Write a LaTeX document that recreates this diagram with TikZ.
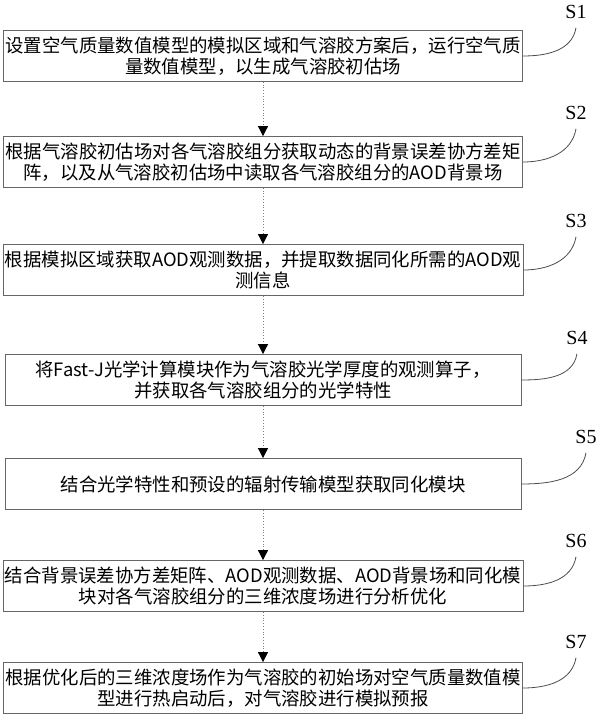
\documentclass[tikz,border=0pt]{standalone}
\usepackage{fontspec}
\setmainfont{Liberation Serif}
\newfontfamily\cjk{Noto Sans CJK SC}
\usetikzlibrary{arrows.meta}

\begin{document}
\begin{tikzpicture}[x=0.5pt,y=-0.5pt,
    stepbox/.style={draw=black!60, minimum width=258pt, minimum height=25.5pt,
        align=center, font=\cjk\fontsize{9.2}{10.5}\selectfont, inner sep=1pt},
    steplabel/.style={font=\fontsize{10}{12}\selectfont},
    flow/.style={densely dotted, black!50, -{Triangle[black, length=5pt, width=5pt]}},
    tag/.style={black!70, thin}]
    \useasboundingbox (0,0) rectangle (600,721);

    % Steps
    \node[stepbox] (s1) at (263,56) {设置空气质量数值模型的模拟区域和气溶胶方案后，运行空气质\\量数值模型，以生成气溶胶初估场};
    \node[stepbox] (s2) at (263,162) {根据气溶胶初估场对各气溶胶组分获取动态的背景误差协方差矩\\阵，以及从气溶胶初估场中读取各气溶胶组分的AOD背景场};
    \node[stepbox] (s3) at (263,270) {根据模拟区域获取AOD观测数据，并提取数据同化所需的AOD观\\测信息};
    \node[stepbox] (s4) at (263,380) {将Fast-J光学计算模块作为气溶胶光学厚度的观测算子，\\并获取各气溶胶组分的光学特性};
    \node[stepbox] (s5) at (263,484) {结合光学特性和预设的辐射传输模型获取同化模块};
    \node[stepbox] (s6) at (263,586) {结合背景误差协方差矩阵、AOD观测数据、AOD背景场和同化模\\块对各气溶胶组分的三维浓度场进行分析优化};
    \node[stepbox] (s7) at (263,688) {根据优化后的三维浓度场作为气溶胶的初始场对空气质量数值模\\型进行热启动后，对气溶胶进行模拟预报};

    % Labels
    \node[steplabel] (l1) at (576,12) {S1};
    \node[steplabel] (l2) at (576,113) {S2};
    \node[steplabel] (l3) at (576,221) {S3};
    \node[steplabel] (l4) at (577,338) {S4};
    \node[steplabel] (l5) at (586,437) {S5};
    \node[steplabel] (l6) at (576,541) {S6};
    \node[steplabel] (l7) at (576,642) {S7};

    \foreach \i in {1,...,7}
    {
        \draw[tag] (s\i.east) to[out=0,in=-100] ([yshift=-1pt]l\i.south);
    }

    % Flow
    \foreach \i/\j in {1/2, 2/3, 3/4, 4/5, 5/6, 6/7}
    {
        \draw[flow] (s\i) -- (s\j);
    }
\end{tikzpicture}
\end{document}
